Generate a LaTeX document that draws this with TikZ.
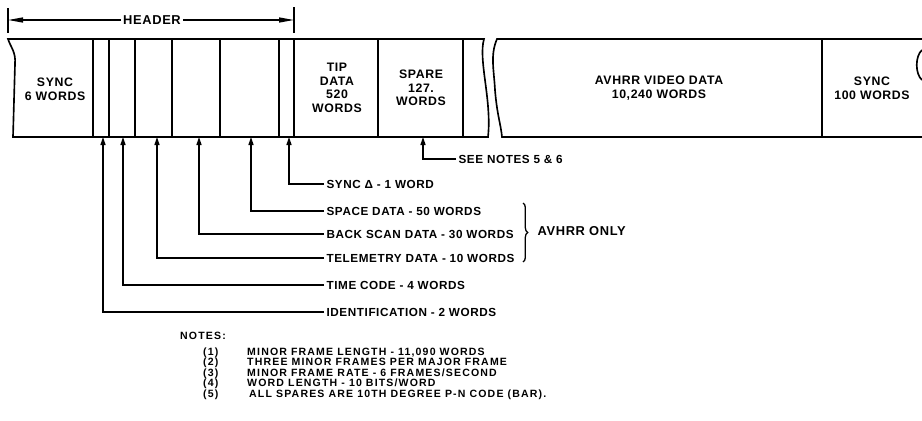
\documentclass[tikz,border=0pt]{standalone}
\usepackage{fontspec}
\setmainfont{Liberation Sans}[LetterSpace=5]
\usetikzlibrary{arrows.meta, decorations.pathreplacing}

\begin{document}
\begin{tikzpicture}[
    x=0.03cm, y=-0.03cm,
    frame/.style={line width=1.4pt},
    field/.style={align=center, font=\fontsize{10.5}{11.6}\selectfont\bfseries},
    callout/.style={anchor=west, inner sep=2pt, font=\fontsize{10}{12}\selectfont\bfseries},
    note/.style={anchor=west, inner sep=0pt, text height=6.5pt, text depth=0pt,
        font=\fontsize{9}{10}\selectfont\bfseries\addfontfeatures{LetterSpace=11}},
    arrow/.style={line width=1.1pt, -{Triangle[length=2.4mm, width=1.5mm]}},
    hdrarrow/.style={line width=1.1pt, -{Triangle[length=4.5mm, width=1.5mm]}}
]
\useasboundingbox (0,0) rectangle (922,421);

% Frame
\draw[frame] (8,39) .. controls (11,48) and (16,52) .. (15,64) -- (13,137) -- (488,137)
    .. controls (492,100) and (478,60) .. (484,39) -- cycle;
\draw[frame] (922,39) -- (497,39) .. controls (490,55) and (494,70) .. (495,90)
    .. controls (497,115) and (501,125) .. (502,137) -- (922,137);
\draw[frame] (922,50) .. controls (915,56) and (915,74) .. (922,80);
\foreach \x in {93,109,135,172,220,279,294,378,463,822}
    \draw[frame] (\x,39) -- (\x,137);

% Header
\node (hdr) at (152,20) [inner sep=2pt, font=\fontsize{11}{13}\selectfont\bfseries] {HEADER};
\coordinate (hl) at (8,20);
\coordinate (hr) at (294,20);
\draw[line width=1.1pt] (8,8) -- (8,33);
\draw[line width=1.1pt] (294,7) -- (294,33);
\draw[hdrarrow] (hdr) -- (hl);
\draw[hdrarrow] (hdr) -- (hr);

% Fields
\node (sync1) at (55,89) [field] {SYNC\\6 WORDS};
\node (tip) at (337,88) [field] {TIP\\DATA\\520\\WORDS};
\node (spare) at (421,88) [field] {SPARE\\127.\\WORDS};
\node (video) at (659,88) [field] {AVHRR VIDEO DATA\\10,240 WORDS};
\node (sync2) at (872,88) [field] {SYNC\\100 WORDS};

% Pointers
\coordinate (id) at (103,137);
\coordinate (tc) at (123,137);
\coordinate (tm) at (157,137);
\coordinate (bs) at (199,137);
\coordinate (sd) at (251,137);
\coordinate (sy) at (289,137);
\coordinate (sp) at (423,137);

\node (lsp) at (456,159) [callout] {SEE NOTES 5 \& 6};
\node (lsy) at (324,184) [callout] {SYNC Δ - 1 WORD};
\node (lsd) at (324,211) [callout] {SPACE DATA - 50 WORDS};
\node (lbs) at (324,234) [callout] {BACK SCAN DATA - 30 WORDS};
\node (ltm) at (324,258) [callout] {TELEMETRY DATA - 10 WORDS};
\node (ltc) at (324,285) [callout] {TIME CODE - 4 WORDS};
\node (lid) at (324,312) [callout] {IDENTIFICATION - 2 WORDS};

\draw[arrow] (lsp.west) -| (sp);
\draw[arrow] (lsy.west) -| (sy);
\draw[arrow] (lsd.west) -| (sd);
\draw[arrow] (lbs.west) -| (bs);
\draw[arrow] (ltm.west) -| (tm);
\draw[arrow] (ltc.west) -| (tc);
\draw[arrow] (lid.west) -| (id);

% Brace
\coordinate (bt) at (523,203);
\coordinate (bb) at (523,262);
\draw[line width=1.1pt, decorate, decoration={brace, amplitude=4pt}] (bt) -- (bb);
\node (avonly) at (535,231) [callout, font=\fontsize{11}{13}\selectfont\bfseries] {AVHRR ONLY};

% Notes
\node (notes) at (180,336) [note] {NOTES:};
\node (n1num) at (203,351.5) [note] {(1)};
\node (n2num) at (203,362) [note] {(2)};
\node (n3num) at (203,372.5) [note] {(3)};
\node (n4num) at (203,383) [note] {(4)};
\node (n5num) at (203,393.5) [note] {(5)};
\node (n1) at (247,351.5) [note] {MINOR FRAME LENGTH - 11,090 WORDS};
\node (n2) at (247,362) [note] {THREE MINOR FRAMES PER MAJOR FRAME};
\node (n3) at (247,372.5) [note] {MINOR FRAME RATE - 6 FRAMES/SECOND};
\node (n4) at (247,383) [note] {WORD LENGTH - 10 BITS/WORD};
\node (n5) at (249,393.5) [note] {ALL SPARES ARE 10TH DEGREE P-N CODE (BAR).};

\end{tikzpicture}
\end{document}
